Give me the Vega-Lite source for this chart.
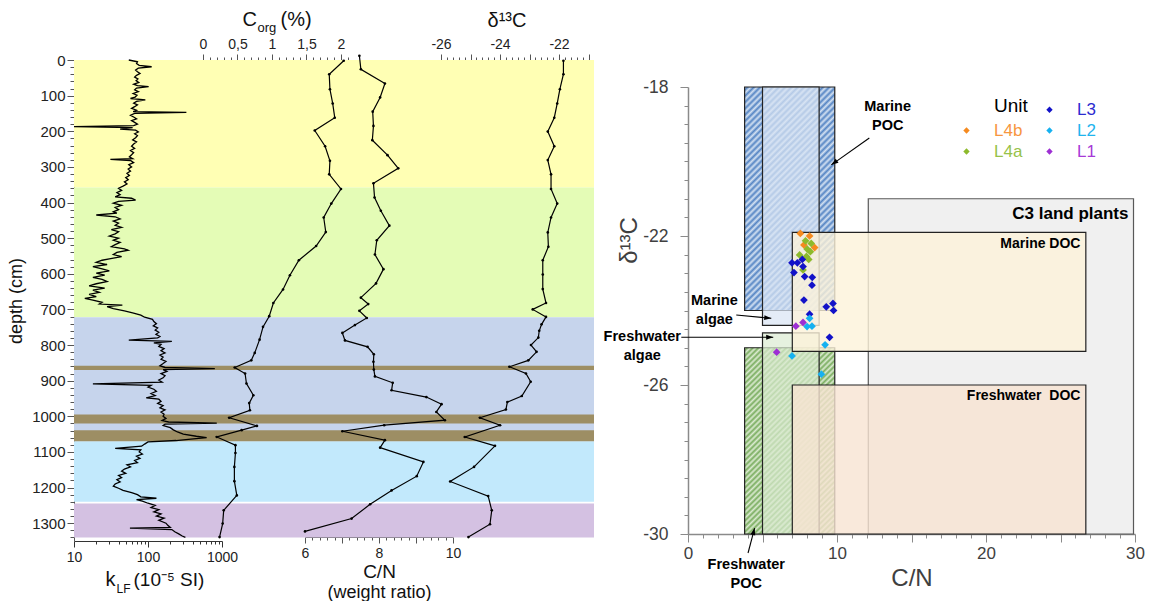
{
"$schema": "https://vega.github.io/schema/vega-lite/v6.json",
"background": "white",
"padding": {"left": 7, "top": 9, "right": 0, "bottom": 0},
"config": {
  "view": {"stroke": null},
  "font": "Liberation Sans",
  "axis": {"grid": false, "labelFont": "Liberation Sans", "titleFont": "Liberation Sans", "titleFontWeight": "normal"},
  "text": {"font": "Liberation Sans"}
},
"datasets": {
  "zones": [
    {"zone": "L4b", "depth": 0, "depth2": 358},
    {"zone": "L4a", "depth": 358, "depth2": 722},
    {"zone": "L3", "depth": 722, "depth2": 1070},
    {"zone": "L2", "depth": 1070, "depth2": 1240},
    {"zone": "L1", "depth": 1245, "depth2": 1340},
    {"zone": "tephra", "depth": 858, "depth2": 870},
    {"zone": "tephra", "depth": 995, "depth2": 1020},
    {"zone": "tephra", "depth": 1039, "depth2": 1070}
  ],
  "klf": [
    {"depth":0,"k":55},{"depth":5,"k":72},{"depth":10,"k":70},{"depth":15,"k":76},{"depth":19,"k":112},{"depth":23,"k":74},{"depth":28,"k":68},{"depth":33,"k":72},{"depth":38,"k":78},{"depth":43,"k":70},{"depth":48,"k":66},{"depth":53,"k":73},{"depth":58,"k":69},{"depth":63,"k":75},{"depth":68,"k":64},{"depth":72,"k":72},{"depth":75,"k":102},{"depth":79,"k":70},{"depth":84,"k":66},{"depth":89,"k":74},{"depth":94,"k":63},{"depth":99,"k":71},{"depth":104,"k":67},{"depth":108,"k":58},{"depth":112,"k":92},{"depth":116,"k":70},{"depth":121,"k":64},{"depth":126,"k":72},{"depth":131,"k":66},{"depth":136,"k":60},{"depth":141,"k":70},{"depth":145,"k":63},{"depth":147,"k":330},{"depth":150,"k":66},{"depth":155,"k":58},{"depth":160,"k":64},{"depth":165,"k":70},{"depth":170,"k":60},{"depth":175,"k":66},{"depth":180,"k":72},{"depth":184,"k":64},{"depth":187,"k":10},{"depth":190,"k":62},{"depth":194,"k":42},{"depth":197,"k":68},{"depth":202,"k":74},{"depth":207,"k":66},{"depth":212,"k":72},{"depth":218,"k":68},{"depth":224,"k":62},{"depth":230,"k":70},{"depth":236,"k":64},{"depth":242,"k":60},{"depth":248,"k":66},{"depth":254,"k":58},{"depth":260,"k":64},{"depth":266,"k":60},{"depth":272,"k":56},{"depth":277,"k":62},{"depth":279,"k":31},{"depth":282,"k":58},{"depth":288,"k":64},{"depth":294,"k":55},{"depth":300,"k":60},{"depth":306,"k":54},{"depth":312,"k":58},{"depth":318,"k":52},{"depth":324,"k":56},{"depth":330,"k":50},{"depth":336,"k":54},{"depth":342,"k":48},{"depth":348,"k":52},{"depth":354,"k":46},{"depth":360,"k":40},{"depth":366,"k":44},{"depth":372,"k":38},{"depth":378,"k":42},{"depth":384,"k":36},{"depth":388,"k":60},{"depth":393,"k":68},{"depth":397,"k":40},{"depth":402,"k":34},{"depth":408,"k":44},{"depth":414,"k":36},{"depth":420,"k":40},{"depth":426,"k":34},{"depth":430,"k":38},{"depth":435,"k":20},{"depth":440,"k":36},{"depth":446,"k":42},{"depth":452,"k":34},{"depth":458,"k":40},{"depth":464,"k":36},{"depth":470,"k":44},{"depth":476,"k":32},{"depth":482,"k":40},{"depth":488,"k":36},{"depth":494,"k":30},{"depth":500,"k":40},{"depth":506,"k":34},{"depth":512,"k":42},{"depth":518,"k":36},{"depth":524,"k":32},{"depth":530,"k":48},{"depth":534,"k":54},{"depth":540,"k":38},{"depth":546,"k":34},{"depth":552,"k":44},{"depth":558,"k":30},{"depth":562,"k":24},{"depth":568,"k":20},{"depth":574,"k":28},{"depth":580,"k":18},{"depth":586,"k":24},{"depth":592,"k":30},{"depth":598,"k":20},{"depth":604,"k":26},{"depth":610,"k":18},{"depth":616,"k":24},{"depth":622,"k":28},{"depth":628,"k":20},{"depth":634,"k":16},{"depth":640,"k":26},{"depth":646,"k":18},{"depth":652,"k":22},{"depth":658,"k":16},{"depth":664,"k":20},{"depth":669,"k":14},{"depth":674,"k":18},{"depth":680,"k":24},{"depth":685,"k":22},{"depth":688,"k":45},{"depth":692,"k":28},{"depth":698,"k":34},{"depth":704,"k":48},{"depth":710,"k":62},{"depth":716,"k":80},{"depth":722,"k":90},{"depth":728,"k":115},{"depth":734,"k":120},{"depth":740,"k":130},{"depth":746,"k":118},{"depth":752,"k":135},{"depth":758,"k":125},{"depth":764,"k":140},{"depth":770,"k":128},{"depth":776,"k":145},{"depth":780,"k":135},{"depth":786,"k":55},{"depth":790,"k":210},{"depth":794,"k":120},{"depth":798,"k":150},{"depth":804,"k":140},{"depth":810,"k":165},{"depth":816,"k":150},{"depth":822,"k":170},{"depth":828,"k":145},{"depth":834,"k":160},{"depth":840,"k":150},{"depth":846,"k":175},{"depth":852,"k":160},{"depth":858,"k":145},{"depth":863,"k":170},{"depth":866,"k":800},{"depth":869,"k":160},{"depth":874,"k":180},{"depth":880,"k":150},{"depth":886,"k":170},{"depth":892,"k":160},{"depth":898,"k":140},{"depth":904,"k":155},{"depth":909,"k":18},{"depth":913,"k":110},{"depth":918,"k":100},{"depth":924,"k":120},{"depth":930,"k":130},{"depth":936,"k":110},{"depth":942,"k":125},{"depth":948,"k":95},{"depth":952,"k":140},{"depth":958,"k":150},{"depth":964,"k":135},{"depth":970,"k":160},{"depth":976,"k":145},{"depth":982,"k":170},{"depth":988,"k":150},{"depth":994,"k":165},{"depth":1000,"k":160},{"depth":1006,"k":175},{"depth":1012,"k":155},{"depth":1016,"k":190},{"depth":1019,"k":850},{"depth":1022,"k":170},{"depth":1026,"k":160},{"depth":1032,"k":200},{"depth":1038,"k":220},{"depth":1044,"k":250},{"depth":1050,"k":300},{"depth":1056,"k":450},{"depth":1060,"k":620},{"depth":1064,"k":380},{"depth":1068,"k":240},{"depth":1072,"k":100},{"depth":1078,"k":90},{"depth":1084,"k":82},{"depth":1090,"k":36},{"depth":1094,"k":80},{"depth":1100,"k":76},{"depth":1106,"k":84},{"depth":1112,"k":70},{"depth":1118,"k":78},{"depth":1124,"k":66},{"depth":1130,"k":72},{"depth":1136,"k":52},{"depth":1142,"k":58},{"depth":1148,"k":48},{"depth":1154,"k":44},{"depth":1160,"k":50},{"depth":1166,"k":40},{"depth":1172,"k":44},{"depth":1178,"k":38},{"depth":1184,"k":42},{"depth":1190,"k":36},{"depth":1196,"k":34},{"depth":1202,"k":40},{"depth":1208,"k":46},{"depth":1214,"k":60},{"depth":1220,"k":72},{"depth":1226,"k":80},{"depth":1230,"k":130},{"depth":1234,"k":70},{"depth":1238,"k":84},{"depth":1244,"k":100},{"depth":1250,"k":125},{"depth":1256,"k":110},{"depth":1262,"k":140},{"depth":1268,"k":120},{"depth":1274,"k":150},{"depth":1280,"k":130},{"depth":1286,"k":165},{"depth":1292,"k":140},{"depth":1300,"k":175},{"depth":1306,"k":185},{"depth":1312,"k":200},{"depth":1314,"k":57},{"depth":1318,"k":210},{"depth":1324,"k":230},{"depth":1330,"k":260},{"depth":1336,"k":290},{"depth":1340,"k":320}
  ],
  "corg": [
    {"depth":2,"corg":2.04},{"depth":40,"corg":1.83},{"depth":82,"corg":1.84},{"depth":122,"corg":1.88},{"depth":162,"corg":1.91},{"depth":198,"corg":1.62},{"depth":242,"corg":1.77},{"depth":283,"corg":1.84},{"depth":321,"corg":1.83},{"depth":362,"corg":2.0},{"depth":403,"corg":1.86},{"depth":442,"corg":1.75},{"depth":483,"corg":1.78},{"depth":522,"corg":1.64},{"depth":562,"corg":1.39},{"depth":604,"corg":1.26},{"depth":644,"corg":1.16},{"depth":682,"corg":1.02},{"depth":719,"corg":0.96},{"depth":749,"corg":0.87},{"depth":785,"corg":0.82},{"depth":822,"corg":0.75},{"depth":843,"corg":0.7},{"depth":863,"corg":0.46},{"depth":880,"corg":0.61},{"depth":908,"corg":0.63},{"depth":941,"corg":0.73},{"depth":963,"corg":0.67},{"depth":983,"corg":0.68},{"depth":1004,"corg":0.38},{"depth":1027,"corg":0.78},{"depth":1039,"corg":0.56},{"depth":1058,"corg":0.2},{"depth":1081,"corg":0.47},{"depth":1103,"corg":0.47},{"depth":1142,"corg":0.455},{"depth":1182,"corg":0.455},{"depth":1222,"corg":0.49},{"depth":1264,"corg":0.3},{"depth":1301,"corg":0.285},{"depth":1339,"corg":0.24}
  ],
  "cn": [
    {"depth":-12,"cn":7.47},{"depth":26,"cn":7.51},{"depth":66,"cn":8.16},{"depth":105,"cn":8.03},{"depth":145,"cn":7.83},{"depth":185,"cn":7.85},{"depth":225,"cn":7.82},{"depth":267,"cn":8.23},{"depth":304,"cn":8.52},{"depth":346,"cn":7.85},{"depth":386,"cn":7.88},{"depth":423,"cn":8.05},{"depth":465,"cn":8.28},{"depth":506,"cn":7.94},{"depth":546,"cn":7.89},{"depth":587,"cn":8.12},{"depth":627,"cn":7.92},{"depth":667,"cn":7.51},{"depth":685,"cn":7.71},{"depth":704,"cn":7.47},{"depth":724,"cn":7.67},{"depth":744,"cn":7.35},{"depth":766,"cn":7.01},{"depth":787,"cn":7.08},{"depth":805,"cn":7.69},{"depth":826,"cn":7.86},{"depth":847,"cn":7.85},{"depth":869,"cn":7.86},{"depth":888,"cn":7.89},{"depth":906,"cn":8.37},{"depth":927,"cn":8.34},{"depth":946,"cn":9.28},{"depth":966,"cn":9.69},{"depth":988,"cn":9.55},{"depth":1011,"cn":9.78},{"depth":1025,"cn":8.14},{"depth":1042,"cn":7.01},{"depth":1067,"cn":8.16},{"depth":1088,"cn":8.03},{"depth":1128,"cn":9.2},{"depth":1168,"cn":9.02},{"depth":1208,"cn":8.34},{"depth":1247,"cn":7.76},{"depth":1287,"cn":7.26},{"depth":1323,"cn":6.0}
  ],
  "d13c": [
    {"depth":2,"d13c":-21.85},{"depth":40,"d13c":-21.85},{"depth":82,"d13c":-21.97},{"depth":122,"d13c":-22.06},{"depth":162,"d13c":-22.16},{"depth":201,"d13c":-22.38},{"depth":242,"d13c":-22.16},{"depth":281,"d13c":-22.38},{"depth":321,"d13c":-22.27},{"depth":362,"d13c":-22.27},{"depth":403,"d13c":-22.06},{"depth":442,"d13c":-22.27},{"depth":484,"d13c":-22.38},{"depth":524,"d13c":-22.36},{"depth":562,"d13c":-22.55},{"depth":602,"d13c":-22.55},{"depth":643,"d13c":-22.55},{"depth":682,"d13c":-22.44},{"depth":700,"d13c":-22.89},{"depth":721,"d13c":-22.44},{"depth":742,"d13c":-22.59},{"depth":760,"d13c":-22.67},{"depth":779,"d13c":-22.7},{"depth":800,"d13c":-22.95},{"depth":819,"d13c":-22.76},{"depth":843,"d13c":-23.04},{"depth":861,"d13c":-23.68},{"depth":880,"d13c":-23.12},{"depth":903,"d13c":-22.96},{"depth":943,"d13c":-23.26},{"depth":960,"d13c":-23.75},{"depth":981,"d13c":-23.8},{"depth":1004,"d13c":-24.68},{"depth":1025,"d13c":-24.0},{"depth":1058,"d13c":-25.19},{"depth":1083,"d13c":-24.17},{"depth":1142,"d13c":-24.88},{"depth":1183,"d13c":-25.69},{"depth":1224,"d13c":-24.4},{"depth":1264,"d13c":-24.28},{"depth":1303,"d13c":-24.34},{"depth":1339,"d13c":-25.07}
  ],
  "ranges": [
    {"source":"C3 land plants","cn":12.1,"cn2":29.9,"d13c":-30,"d13c2":-21},
    {"source":"Marine POC","cn":3.8,"cn2":9.85,"d13c":-24,"d13c2":-18},
    {"source":"Freshwater POC","cn":3.8,"cn2":9.85,"d13c":-30,"d13c2":-25},
    {"source":"Marine algae","cn":5,"cn2":8.8,"d13c":-24.4,"d13c2":-18},
    {"source":"Freshwater algae","cn":5,"cn2":8.8,"d13c":-30,"d13c2":-24.6},
    {"source":"Marine DOC","cn":7,"cn2":26.7,"d13c":-25.1,"d13c2":-21.9},
    {"source":"Freshwater DOC","cn":7,"cn2":26.7,"d13c":-30,"d13c2":-26}
  ],
  "samples": [
    {"unit":"L4b","cn":7.54,"d13c":-21.93},{"unit":"L4b","cn":8.16,"d13c":-22.0},{"unit":"L4b","cn":7.78,"d13c":-22.24},{"unit":"L4b","cn":8.5,"d13c":-22.31},
    {"unit":"L4a","cn":7.89,"d13c":-22.13},{"unit":"L4a","cn":8.27,"d13c":-22.2},{"unit":"L4a","cn":8.21,"d13c":-22.42},{"unit":"L4a","cn":7.49,"d13c":-22.51},{"unit":"L4a","cn":8.1,"d13c":-22.63},{"unit":"L4a","cn":7.72,"d13c":-22.91},{"unit":"L4a","cn":8.0,"d13c":-22.35},{"unit":"L4a","cn":7.95,"d13c":-22.55},
    {"unit":"L3","cn":6.98,"d13c":-22.72},{"unit":"L3","cn":7.34,"d13c":-22.72},{"unit":"L3","cn":7.67,"d13c":-22.63},{"unit":"L3","cn":7.11,"d13c":-22.98},{"unit":"L3","cn":7.72,"d13c":-22.82},{"unit":"L3","cn":7.83,"d13c":-23.09},{"unit":"L3","cn":8.34,"d13c":-23.11},{"unit":"L3","cn":8.32,"d13c":-23.32},{"unit":"L3","cn":7.78,"d13c":-23.72},{"unit":"L3","cn":9.28,"d13c":-23.9},{"unit":"L3","cn":9.73,"d13c":-23.81},{"unit":"L3","cn":9.77,"d13c":-24.0},{"unit":"L3","cn":8.16,"d13c":-24.1},{"unit":"L3","cn":9.5,"d13c":-24.72},
    {"unit":"L2","cn":8.16,"d13c":-24.21},{"unit":"L2","cn":7.99,"d13c":-24.43},{"unit":"L2","cn":8.32,"d13c":-24.42},{"unit":"L2","cn":9.2,"d13c":-24.92},{"unit":"L2","cn":6.98,"d13c":-25.22},{"unit":"L2","cn":8.95,"d13c":-25.71},
    {"unit":"L1","cn":7.72,"d13c":-24.32},{"unit":"L1","cn":7.24,"d13c":-24.42},{"unit":"L1","cn":5.95,"d13c":-25.12}
  ],
  "notes": [
    {"note":"Marine\nPOC","cn":13.4,"d13c":-18.54},
    {"note":"Marine\nalgae","cn":1.77,"d13c":-23.75},
    {"note":"Freshwater\nalgae","cn":-3.07,"d13c":-24.71},
    {"note":"Freshwater\nPOC","cn":3.91,"d13c":-30.83}
  ],
  "tags": [
    {"tag":"C3 land plants","cn":29.56,"d13c":-21.41},
    {"tag":"Marine DOC","cn":26.34,"d13c":-22.21},
    {"tag":"Freshwater\u00a0\u00a0DOC","cn":26.34,"d13c":-26.29}
  ],
  "arrows": [
    {"target":"Marine POC","cn":9.62,"d13c":-20.09,"cn2":12.17,"d13c2":-19.37},
    {"target":"Marine algae","cn":5.59,"d13c":-24.21,"cn2":3.24,"d13c2":-24.12},
    {"target":"Freshwater algae","cn":5.72,"d13c":-24.72,"cn2":-0.45,"d13c2":-24.72},
    {"target":"Freshwater POC","cn":4.47,"d13c":-29.84,"cn2":4.03,"d13c2":-30.51}
  ]
},
"spacing": 9,
"resolve": {"scale": {"color": "independent", "fill": "independent"}, "legend": {"color": "independent"}},
"hconcat": [
  {
    "width": 520,
    "height": 481,
    "resolve": {"scale": {"x": "independent"}, "axis": {"x": "independent"}},
    "encoding": {
      "y": {
        "field": "depth", "type": "quantitative", "title": "depth (cm)",
        "scale": {"domain": [0, 1350], "reverse": true, "nice": false, "zero": false},
        "axis": {
          "values": [0,20,40,60,80,100,120,140,160,180,200,220,240,260,280,300,320,340,360,380,400,420,440,460,480,500,520,540,560,580,600,620,640,660,680,700,720,740,760,780,800,820,840,860,880,900,920,940,960,980,1000,1020,1040,1060,1080,1100,1120,1140,1160,1180,1200,1220,1240,1260,1280,1300,1320,1340],
          "labelExpr": "datum.value % 100 === 0 ? '' + datum.value : ''",
          "tickSize": {"condition": {"test": "datum.value % 100 === 0", "value": 7}, "value": 4},
          "labelFontSize": 15, "labelColor": "#222222", "tickColor": "#555555", "domainColor": "#555555",
          "labelPadding": 2, "titleFontSize": 18, "titleColor": "#111111", "titlePadding": 6, "labelOverlap": false
        }
      }
    },
    "layer": [
      {
        "data": {"name": "zones"},
        "mark": {"type": "rect"},
        "encoding": {
          "x": {"value": 0}, "x2": {"value": "width"},
          "y2": {"field": "depth2"},
          "fill": {"field": "zone", "type": "nominal", "legend": null,
            "scale": {"domain": ["L4b","L4a","L3","L2","L1","tephra"], "range": ["#ffffb4","#e4fcb6","#c6d4ec","#c2e9fc","#d4c1e2","#9d8e64"]}}
        }
      },
      {
        "data": {"name": "klf"},
        "mark": {"type": "line", "color": "#000000", "strokeWidth": 1.3},
        "encoding": {
          "x": {"field": "k", "type": "quantitative",
            "scale": {"type": "log", "domain": [10, 1000], "range": [0, 148], "nice": false},
            "axis": {"orient": "bottom", "offset": 0,
              "values": [10,20,30,40,50,60,70,80,90,100,200,300,400,500,600,700,800,900,1000],
              "labelExpr": "indexof([10,100,1000], datum.value) >= 0 ? '' + datum.value : ''",
              "tickSize": {"condition": {"test": "indexof([10,100,1000], datum.value) >= 0", "value": 6}, "value": 3},
              "labelFontSize": 14, "labelPadding": 3, "labelOverlap": false, "labelFlush": false,
              "domainColor": "#333333", "tickColor": "#333333", "labelColor": "#222222",
              "title": "k", "titleX": 31, "titleY": 44, "titleFontSize": 20, "titleAlign": "left", "titleBaseline": "alphabetic", "titleColor": "#111111"}},
          "order": {"field": "depth", "type": "quantitative"}
        }
      },
      {
        "data": {"name": "klf"},
        "mark": {"type": "line", "opacity": 0},
        "encoding": {
          "x": {"field": "k", "type": "quantitative",
            "scale": {"type": "log", "domain": [10, 1000], "range": [0, 148], "nice": false},
            "axis": {"orient": "bottom", "offset": 0, "domain": false, "ticks": false, "labels": false,
              "title": "LF", "titleX": 42, "titleY": 51, "titleFontSize": 12, "titleAlign": "left", "titleBaseline": "alphabetic", "titleColor": "#111111"}},
          "order": {"field": "depth", "type": "quantitative"}
        }
      },
      {
        "data": {"name": "klf"},
        "mark": {"type": "line", "opacity": 0},
        "encoding": {
          "x": {"field": "k", "type": "quantitative",
            "scale": {"type": "log", "domain": [10, 1000], "range": [0, 148], "nice": false},
            "axis": {"orient": "bottom", "offset": 0, "domain": false, "ticks": false, "labels": false,
              "title": "(10⁻⁵ SI)", "titleX": 59, "titleY": 44, "titleFontSize": 19, "titleAlign": "left", "titleBaseline": "alphabetic", "titleColor": "#111111"}},
          "order": {"field": "depth", "type": "quantitative"}
        }
      },
      {
        "data": {"name": "corg"},
        "mark": {"type": "line", "color": "#000000", "strokeWidth": 1.2, "point": {"filled": true, "size": 7, "color": "#000000"}},
        "encoding": {
          "x": {"field": "corg", "type": "quantitative",
            "scale": {"domain": [0, 2.16], "range": [129, 278], "nice": false, "zero": false},
            "axis": {"orient": "top", "offset": 0,
              "values": [0,0.1,0.2,0.3,0.4,0.5,0.6,0.7,0.8,0.9,1,1.1,1.2,1.3,1.4,1.5,1.6,1.7,1.8,1.9,2,2.1],
              "labelExpr": "indexof([0,0.5,1,1.5,2], datum.value) >= 0 ? replace('' + datum.value, '.', ',') : ''",
              "tickSize": {"condition": {"test": "indexof([0,0.5,1,1.5,2], datum.value) >= 0", "value": 6}, "value": 3},
              "labelFontSize": 14, "labelPadding": 3, "labelOverlap": false, "labelFlush": false,
              "domainColor": "#555555", "tickColor": "#555555", "labelColor": "#222222",
              "title": "C", "titleX": 168, "titleY": -35, "titleFontSize": 20, "titleAlign": "left", "titleBaseline": "alphabetic", "titleColor": "#111111"}},
          "order": {"field": "depth", "type": "quantitative"}
        }
      },
      {
        "data": {"name": "corg"},
        "mark": {"type": "line", "opacity": 0},
        "encoding": {
          "x": {"field": "corg", "type": "quantitative",
            "scale": {"domain": [0, 2.16], "range": [129, 278], "nice": false, "zero": false},
            "axis": {"orient": "top", "offset": 0, "domain": false, "ticks": false, "labels": false,
              "title": "org", "titleX": 183, "titleY": -29, "titleFontSize": 13, "titleAlign": "left", "titleBaseline": "alphabetic", "titleColor": "#111111"}},
          "order": {"field": "depth", "type": "quantitative"}
        }
      },
      {
        "data": {"name": "corg"},
        "mark": {"type": "line", "opacity": 0},
        "encoding": {
          "x": {"field": "corg", "type": "quantitative",
            "scale": {"domain": [0, 2.16], "range": [129, 278], "nice": false, "zero": false},
            "axis": {"orient": "top", "offset": 0, "domain": false, "ticks": false, "labels": false,
              "title": "(%)", "titleX": 206, "titleY": -35, "titleFontSize": 20, "titleAlign": "left", "titleBaseline": "alphabetic", "titleColor": "#111111"}},
          "order": {"field": "depth", "type": "quantitative"}
        }
      },
      {
        "data": {"name": "cn"},
        "mark": {"type": "line", "color": "#000000", "strokeWidth": 1.2, "point": {"filled": true, "size": 7, "color": "#000000"}},
        "encoding": {
          "x": {"field": "cn", "type": "quantitative",
            "scale": {"domain": [6, 10], "range": [231, 379], "nice": false, "zero": false},
            "axis": {"orient": "bottom", "offset": -4,
              "values": [6,6.2,6.4,6.6,6.8,7,7.2,7.4,7.6,7.8,8,8.2,8.4,8.6,8.8,9,9.2,9.4,9.6,9.8,10],
              "labelExpr": "indexof([6,8,10], datum.value) >= 0 ? '' + datum.value : ''",
              "tickSize": {"condition": {"test": "datum.value === round(datum.value)", "value": 6}, "value": 3},
              "labelFontSize": 14, "labelPadding": 3, "labelOverlap": false, "labelFlush": false,
              "domainColor": "#555555", "tickColor": "#555555", "labelColor": "#222222",
              "title": "C/N", "titleX": 305, "titleY": 40, "titleFontSize": 19, "titleAlign": "center", "titleBaseline": "alphabetic", "titleColor": "#111111"}},
          "order": {"field": "depth", "type": "quantitative"}
        }
      },
      {
        "data": {"name": "cn"},
        "mark": {"type": "line", "opacity": 0},
        "encoding": {
          "x": {"field": "cn", "type": "quantitative",
            "scale": {"domain": [6, 10], "range": [231, 379], "nice": false, "zero": false},
            "axis": {"orient": "bottom", "offset": -4, "domain": false, "ticks": false, "labels": false,
              "title": "(weight ratio)", "titleX": 305, "titleY": 60, "titleFontSize": 18, "titleAlign": "center", "titleBaseline": "alphabetic", "titleColor": "#111111"}},
          "order": {"field": "depth", "type": "quantitative"}
        }
      },
      {
        "data": {"name": "d13c"},
        "mark": {"type": "line", "color": "#000000", "strokeWidth": 1.2, "point": {"filled": true, "size": 7, "color": "#000000"}},
        "encoding": {
          "x": {"field": "d13c", "type": "quantitative",
            "scale": {"domain": [-26, -21], "range": [367, 514.5], "nice": false, "zero": false},
            "axis": {"orient": "top", "offset": 0,
              "values": [-26,-25.8,-25.6,-25.4,-25.2,-25,-24.8,-24.6,-24.4,-24.2,-24,-23.8,-23.6,-23.4,-23.2,-23,-22.8,-22.6,-22.4,-22.2,-22,-21.8,-21.6,-21.4,-21.2,-21],
              "labelExpr": "indexof([-26,-24,-22], datum.value) >= 0 ? '' + datum.value : ''",
              "tickSize": {"condition": {"test": "datum.value === round(datum.value)", "value": 6}, "value": 3},
              "labelFontSize": 14, "labelPadding": 3, "labelOverlap": false, "labelFlush": false,
              "domainColor": "#555555", "tickColor": "#555555", "labelColor": "#222222",
              "title": "δ¹³C", "titleX": 413, "titleY": -34, "titleFontSize": 20, "titleAlign": "left", "titleBaseline": "alphabetic", "titleColor": "#111111"}},
          "order": {"field": "depth", "type": "quantitative"}
        }
      }
    ]
  },
  {
    "spacing": 17,
    "resolve": {"scale": {"color": "independent"}, "legend": {"color": "independent"}},
    "vconcat": [
      {
        "width": 447,
        "height": 1,
        "data": {"values": [{}]},
        "mark": {"type": "rect", "opacity": 0},
        "encoding": {}
      },
      {
        "width": 447,
        "height": 447,
        "encoding": {
          "x": {"field": "cn", "type": "quantitative", "title": "C/N",
            "scale": {"domain": [0, 30], "nice": false, "zero": false},
            "axis": {"values": [0,1,2,3,4,5,6,7,8,9,10,11,12,13,14,15,16,17,18,19,20,21,22,23,24,25,26,27,28,29,30],
              "labelExpr": "datum.value % 10 === 0 ? '' + datum.value : ''",
              "tickSize": {"condition": {"test": "datum.value % 5 === 0", "value": 8}, "value": 4},
              "labelFontSize": 17, "labelColor": "#404040", "tickColor": "#8a8a8a", "domainColor": "#8a8a8a", "domainWidth": 1.5,
              "labelPadding": 3, "titleFontSize": 24, "titleColor": "#404040", "titlePadding": 5, "labelOverlap": false, "labelFlush": false}},
          "y": {"field": "d13c", "type": "quantitative", "title": "δ¹³C",
            "scale": {"domain": [-30, -18], "nice": false, "zero": false},
            "axis": {"values": [-30,-29.5,-29,-28.5,-28,-27.5,-27,-26.5,-26,-25.5,-25,-24.5,-24,-23.5,-23,-22.5,-22,-21.5,-21,-20.5,-20,-19.5,-19,-18.5,-18],
              "labelExpr": "indexof([-30,-26,-22,-18], datum.value) >= 0 ? '' + datum.value : ''",
              "tickSize": {"condition": {"test": "indexof([-30,-26,-22,-18], datum.value) >= 0", "value": 8}, "value": 4},
              "labelFontSize": 17.5, "labelColor": "#404040", "tickColor": "#8a8a8a", "domainColor": "#8a8a8a", "domainWidth": 1.5,
              "labelPadding": 12, "titleFontSize": 24, "titleColor": "#404040",
              "titleX": -59, "titleY": 153, "titleAngle": -90, "titleAlign": "center", "titleBaseline": "middle",
              "labelOverlap": false, "labelFlush": false}}
        },
        "layer": [
          {
            "data": {"name": "ranges"},
            "transform": [{"filter": "datum.source === 'C3 land plants'"}],
            "mark": {"type": "rect", "fill": "#f0f0f0", "stroke": "#595959", "strokeWidth": 1.2},
            "encoding": {"x2": {"field": "cn2"}, "y2": {"field": "d13c2"}}
          },
          {
            "data": {"name": "ranges"},
            "transform": [{"filter": "datum.source === 'Marine POC'"}],
            "mark": {"type": "rect", "stroke": "#222222", "strokeWidth": 1.2,
              "fill": {"gradient": "linear", "x1": 0, "y1": 0, "x2": 0.486, "y2": 1.207, "stops": [
                {"offset":0,"color":"#d3e1f2"},{"offset":0.01,"color":"#5585c4"},{"offset":0.02,"color":"#d3e1f2"},{"offset":0.03,"color":"#5585c4"},{"offset":0.04,"color":"#d3e1f2"},{"offset":0.05,"color":"#5585c4"},{"offset":0.06,"color":"#d3e1f2"},{"offset":0.07,"color":"#5585c4"},{"offset":0.08,"color":"#d3e1f2"},{"offset":0.09,"color":"#5585c4"},
                {"offset":0.1,"color":"#d3e1f2"},{"offset":0.11,"color":"#5585c4"},{"offset":0.12,"color":"#d3e1f2"},{"offset":0.13,"color":"#5585c4"},{"offset":0.14,"color":"#d3e1f2"},{"offset":0.15,"color":"#5585c4"},{"offset":0.16,"color":"#d3e1f2"},{"offset":0.17,"color":"#5585c4"},{"offset":0.18,"color":"#d3e1f2"},{"offset":0.19,"color":"#5585c4"},
                {"offset":0.2,"color":"#d3e1f2"},{"offset":0.21,"color":"#5585c4"},{"offset":0.22,"color":"#d3e1f2"},{"offset":0.23,"color":"#5585c4"},{"offset":0.24,"color":"#d3e1f2"},{"offset":0.25,"color":"#5585c4"},{"offset":0.26,"color":"#d3e1f2"},{"offset":0.27,"color":"#5585c4"},{"offset":0.28,"color":"#d3e1f2"},{"offset":0.29,"color":"#5585c4"},
                {"offset":0.3,"color":"#d3e1f2"},{"offset":0.31,"color":"#5585c4"},{"offset":0.32,"color":"#d3e1f2"},{"offset":0.33,"color":"#5585c4"},{"offset":0.34,"color":"#d3e1f2"},{"offset":0.35,"color":"#5585c4"},{"offset":0.36,"color":"#d3e1f2"},{"offset":0.37,"color":"#5585c4"},{"offset":0.38,"color":"#d3e1f2"},{"offset":0.39,"color":"#5585c4"},
                {"offset":0.4,"color":"#d3e1f2"},{"offset":0.41,"color":"#5585c4"},{"offset":0.42,"color":"#d3e1f2"},{"offset":0.43,"color":"#5585c4"},{"offset":0.44,"color":"#d3e1f2"},{"offset":0.45,"color":"#5585c4"},{"offset":0.46,"color":"#d3e1f2"},{"offset":0.47,"color":"#5585c4"},{"offset":0.48,"color":"#d3e1f2"},{"offset":0.49,"color":"#5585c4"},
                {"offset":0.5,"color":"#d3e1f2"},{"offset":0.51,"color":"#5585c4"},{"offset":0.52,"color":"#d3e1f2"},{"offset":0.53,"color":"#5585c4"},{"offset":0.54,"color":"#d3e1f2"},{"offset":0.55,"color":"#5585c4"},{"offset":0.56,"color":"#d3e1f2"},{"offset":0.57,"color":"#5585c4"},{"offset":0.58,"color":"#d3e1f2"},{"offset":0.59,"color":"#5585c4"},
                {"offset":0.6,"color":"#d3e1f2"},{"offset":0.61,"color":"#5585c4"},{"offset":0.62,"color":"#d3e1f2"},{"offset":0.63,"color":"#5585c4"},{"offset":0.64,"color":"#d3e1f2"},{"offset":0.65,"color":"#5585c4"},{"offset":0.66,"color":"#d3e1f2"},{"offset":0.67,"color":"#5585c4"},{"offset":0.68,"color":"#d3e1f2"},{"offset":0.69,"color":"#5585c4"},
                {"offset":0.7,"color":"#d3e1f2"},{"offset":0.71,"color":"#5585c4"},{"offset":0.72,"color":"#d3e1f2"},{"offset":0.73,"color":"#5585c4"},{"offset":0.74,"color":"#d3e1f2"},{"offset":0.75,"color":"#5585c4"},{"offset":0.76,"color":"#d3e1f2"},{"offset":0.77,"color":"#5585c4"},{"offset":0.78,"color":"#d3e1f2"},{"offset":0.79,"color":"#5585c4"},
                {"offset":0.8,"color":"#d3e1f2"},{"offset":0.81,"color":"#5585c4"},{"offset":0.82,"color":"#d3e1f2"},{"offset":0.83,"color":"#5585c4"},{"offset":0.84,"color":"#d3e1f2"},{"offset":0.85,"color":"#5585c4"},{"offset":0.86,"color":"#d3e1f2"},{"offset":0.87,"color":"#5585c4"},{"offset":0.88,"color":"#d3e1f2"},{"offset":0.89,"color":"#5585c4"},
                {"offset":0.9,"color":"#d3e1f2"},{"offset":0.91,"color":"#5585c4"},{"offset":0.92,"color":"#d3e1f2"},{"offset":0.93,"color":"#5585c4"},{"offset":0.94,"color":"#d3e1f2"},{"offset":0.95,"color":"#5585c4"},{"offset":0.96,"color":"#d3e1f2"},{"offset":0.97,"color":"#5585c4"},{"offset":0.98,"color":"#d3e1f2"},{"offset":0.99,"color":"#5585c4"},
                {"offset":1,"color":"#d3e1f2"}]}},
            "encoding": {"x2": {"field": "cn2"}, "y2": {"field": "d13c2"}}
          },
          {
            "data": {"name": "ranges"},
            "transform": [{"filter": "datum.source === 'Freshwater POC'"}],
            "mark": {"type": "rect", "stroke": "#222222", "strokeWidth": 1.2,
              "fill": {"gradient": "linear", "x1": 0, "y1": 0, "x2": 0.575, "y2": 1.202, "stops": [
                {"offset":0,"color":"#dbead0"},{"offset":0.01,"color":"#79ad5f"},{"offset":0.02,"color":"#dbead0"},{"offset":0.03,"color":"#79ad5f"},{"offset":0.04,"color":"#dbead0"},{"offset":0.05,"color":"#79ad5f"},{"offset":0.06,"color":"#dbead0"},{"offset":0.07,"color":"#79ad5f"},{"offset":0.08,"color":"#dbead0"},{"offset":0.09,"color":"#79ad5f"},
                {"offset":0.1,"color":"#dbead0"},{"offset":0.11,"color":"#79ad5f"},{"offset":0.12,"color":"#dbead0"},{"offset":0.13,"color":"#79ad5f"},{"offset":0.14,"color":"#dbead0"},{"offset":0.15,"color":"#79ad5f"},{"offset":0.16,"color":"#dbead0"},{"offset":0.17,"color":"#79ad5f"},{"offset":0.18,"color":"#dbead0"},{"offset":0.19,"color":"#79ad5f"},
                {"offset":0.2,"color":"#dbead0"},{"offset":0.21,"color":"#79ad5f"},{"offset":0.22,"color":"#dbead0"},{"offset":0.23,"color":"#79ad5f"},{"offset":0.24,"color":"#dbead0"},{"offset":0.25,"color":"#79ad5f"},{"offset":0.26,"color":"#dbead0"},{"offset":0.27,"color":"#79ad5f"},{"offset":0.28,"color":"#dbead0"},{"offset":0.29,"color":"#79ad5f"},
                {"offset":0.3,"color":"#dbead0"},{"offset":0.31,"color":"#79ad5f"},{"offset":0.32,"color":"#dbead0"},{"offset":0.33,"color":"#79ad5f"},{"offset":0.34,"color":"#dbead0"},{"offset":0.35,"color":"#79ad5f"},{"offset":0.36,"color":"#dbead0"},{"offset":0.37,"color":"#79ad5f"},{"offset":0.38,"color":"#dbead0"},{"offset":0.39,"color":"#79ad5f"},
                {"offset":0.4,"color":"#dbead0"},{"offset":0.41,"color":"#79ad5f"},{"offset":0.42,"color":"#dbead0"},{"offset":0.43,"color":"#79ad5f"},{"offset":0.44,"color":"#dbead0"},{"offset":0.45,"color":"#79ad5f"},{"offset":0.46,"color":"#dbead0"},{"offset":0.47,"color":"#79ad5f"},{"offset":0.48,"color":"#dbead0"},{"offset":0.49,"color":"#79ad5f"},
                {"offset":0.5,"color":"#dbead0"},{"offset":0.51,"color":"#79ad5f"},{"offset":0.52,"color":"#dbead0"},{"offset":0.53,"color":"#79ad5f"},{"offset":0.54,"color":"#dbead0"},{"offset":0.55,"color":"#79ad5f"},{"offset":0.56,"color":"#dbead0"},{"offset":0.57,"color":"#79ad5f"},{"offset":0.58,"color":"#dbead0"},{"offset":0.59,"color":"#79ad5f"},
                {"offset":0.6,"color":"#dbead0"},{"offset":0.61,"color":"#79ad5f"},{"offset":0.62,"color":"#dbead0"},{"offset":0.63,"color":"#79ad5f"},{"offset":0.64,"color":"#dbead0"},{"offset":0.65,"color":"#79ad5f"},{"offset":0.66,"color":"#dbead0"},{"offset":0.67,"color":"#79ad5f"},{"offset":0.68,"color":"#dbead0"},{"offset":0.69,"color":"#79ad5f"},
                {"offset":0.7,"color":"#dbead0"},{"offset":0.71,"color":"#79ad5f"},{"offset":0.72,"color":"#dbead0"},{"offset":0.73,"color":"#79ad5f"},{"offset":0.74,"color":"#dbead0"},{"offset":0.75,"color":"#79ad5f"},{"offset":0.76,"color":"#dbead0"},{"offset":0.77,"color":"#79ad5f"},{"offset":0.78,"color":"#dbead0"},{"offset":0.79,"color":"#79ad5f"},
                {"offset":0.8,"color":"#dbead0"},{"offset":0.81,"color":"#79ad5f"},{"offset":0.82,"color":"#dbead0"},{"offset":0.83,"color":"#79ad5f"},{"offset":0.84,"color":"#dbead0"},{"offset":0.85,"color":"#79ad5f"},{"offset":0.86,"color":"#dbead0"},{"offset":0.87,"color":"#79ad5f"},{"offset":0.88,"color":"#dbead0"},{"offset":0.89,"color":"#79ad5f"},
                {"offset":0.9,"color":"#dbead0"},{"offset":0.91,"color":"#79ad5f"},{"offset":0.92,"color":"#dbead0"},{"offset":0.93,"color":"#79ad5f"},{"offset":0.94,"color":"#dbead0"},{"offset":0.95,"color":"#79ad5f"},{"offset":0.96,"color":"#dbead0"},{"offset":0.97,"color":"#79ad5f"},{"offset":0.98,"color":"#dbead0"},{"offset":0.99,"color":"#79ad5f"},
                {"offset":1,"color":"#dbead0"}]}},
            "encoding": {"x2": {"field": "cn2"}, "y2": {"field": "d13c2"}}
          },
          {
            "data": {"name": "ranges"},
            "transform": [{"filter": "datum.source === 'Marine algae'"}],
            "mark": {"type": "rect", "fill": "#dae5f4", "fillOpacity": 0.72, "stroke": "#222222", "strokeWidth": 1.2},
            "encoding": {"x2": {"field": "cn2"}, "y2": {"field": "d13c2"}}
          },
          {
            "data": {"name": "ranges"},
            "transform": [{"filter": "datum.source === 'Freshwater algae'"}],
            "mark": {"type": "rect", "fill": "#dcebd2", "fillOpacity": 0.7, "stroke": "#222222", "strokeWidth": 1.2},
            "encoding": {"x2": {"field": "cn2"}, "y2": {"field": "d13c2"}}
          },
          {
            "data": {"name": "ranges"},
            "transform": [{"filter": "datum.source === 'Marine DOC'"}],
            "mark": {"type": "rect", "fill": "#fcf3da", "fillOpacity": 0.8, "stroke": "#222222", "strokeWidth": 1.2},
            "encoding": {"x2": {"field": "cn2"}, "y2": {"field": "d13c2"}}
          },
          {
            "data": {"name": "ranges"},
            "transform": [{"filter": "datum.source === 'Freshwater DOC'"}],
            "mark": {"type": "rect", "fill": "#f8e3d2", "fillOpacity": 0.8, "stroke": "#222222", "strokeWidth": 1.2},
            "encoding": {"x2": {"field": "cn2"}, "y2": {"field": "d13c2"}}
          },
          {
            "data": {"name": "samples"},
            "mark": {"type": "point", "shape": "diamond", "filled": true, "size": 60, "opacity": 1},
            "encoding": {
              "color": {"field": "unit", "type": "nominal",
                "scale": {"domain": ["Unit","L4b","L4a","L3","L2","L1"], "range": ["rgba(0,0,0,0)","#f58a1f","#8dba2c","#1212c8","#16b1f0","#9d2fd3"]},
                "legend": {"title": null, "orient": "none", "legendX": 270, "legendY": 14, "columns": 2, "columnPadding": 13, "rowPadding": 3,
                  "symbolSize": 40, "symbolType": "diamond", "labelOffset": 19, "padding": 0, "labelFont": "Liberation Sans",
                  "labelColor": {"expr": "datum.value === 'Unit' ? '#000000' : datum.value === 'L3' ? '#2b2bd0' : datum.value === 'L4b' ? '#f7963f' : datum.value === 'L2' ? '#1fb4ee' : datum.value === 'L4a' ? '#97c24a' : '#a63ad6'"},
                  "labelFontSize": {"expr": "datum.value === 'Unit' ? 19 : 17"},
                  "labelBaseline": {"expr": "datum.value === 'Unit' ? 'alphabetic' : 'middle'"}}
              }
            }
          },
          {
            "data": {"name": "notes"},
            "mark": {"type": "text", "fontSize": 14.5, "fontWeight": "bold", "align": "center", "baseline": "middle", "lineBreak": "\n", "lineHeight": 19, "color": "#000000"},
            "encoding": {"text": {"field": "note"}}
          },
          {
            "data": {"name": "tags"},
            "transform": [{"filter": "datum.tag === 'C3 land plants'"}],
            "mark": {"type": "text", "fontSize": 17, "fontWeight": "bold", "align": "right", "baseline": "middle", "color": "#000000"},
            "encoding": {"text": {"field": "tag"}}
          },
          {
            "data": {"name": "tags"},
            "transform": [{"filter": "datum.tag !== 'C3 land plants'"}],
            "mark": {"type": "text", "fontSize": 14, "fontWeight": "bold", "align": "right", "baseline": "middle", "color": "#000000"},
            "encoding": {"text": {"field": "tag"}}
          },
          {
            "data": {"name": "arrows"},
            "mark": {"type": "rule", "color": "#000000", "strokeWidth": 1.1},
            "encoding": {"x2": {"field": "cn2"}, "y2": {"field": "d13c2"}}
          },
          {
            "data": {"name": "arrows"},
            "transform": [{"filter": "datum.target === 'Marine POC'"}],
            "mark": {"type": "point", "shape": "M0,0L0.35,1L-0.35,1Z", "filled": true, "color": "#000000", "size": 200, "angle": 234.6, "opacity": 1}
          },
          {
            "data": {"name": "arrows"},
            "transform": [{"filter": "datum.target === 'Marine algae'"}],
            "mark": {"type": "point", "shape": "M0,0L0.35,1L-0.35,1Z", "filled": true, "color": "#000000", "size": 200, "angle": 95.7, "opacity": 1}
          },
          {
            "data": {"name": "arrows"},
            "transform": [{"filter": "datum.target === 'Freshwater algae'"}],
            "mark": {"type": "point", "shape": "M0,0L0.35,1L-0.35,1Z", "filled": true, "color": "#000000", "size": 200, "angle": 90, "opacity": 1}
          },
          {
            "data": {"name": "arrows"},
            "transform": [{"filter": "datum.target === 'Freshwater POC'"}],
            "mark": {"type": "point", "shape": "M0,0L0.35,1L-0.35,1Z", "filled": true, "color": "#000000", "size": 200, "angle": 14.8, "opacity": 1}
          }
        ]
      }
    ]
  }
]
}
